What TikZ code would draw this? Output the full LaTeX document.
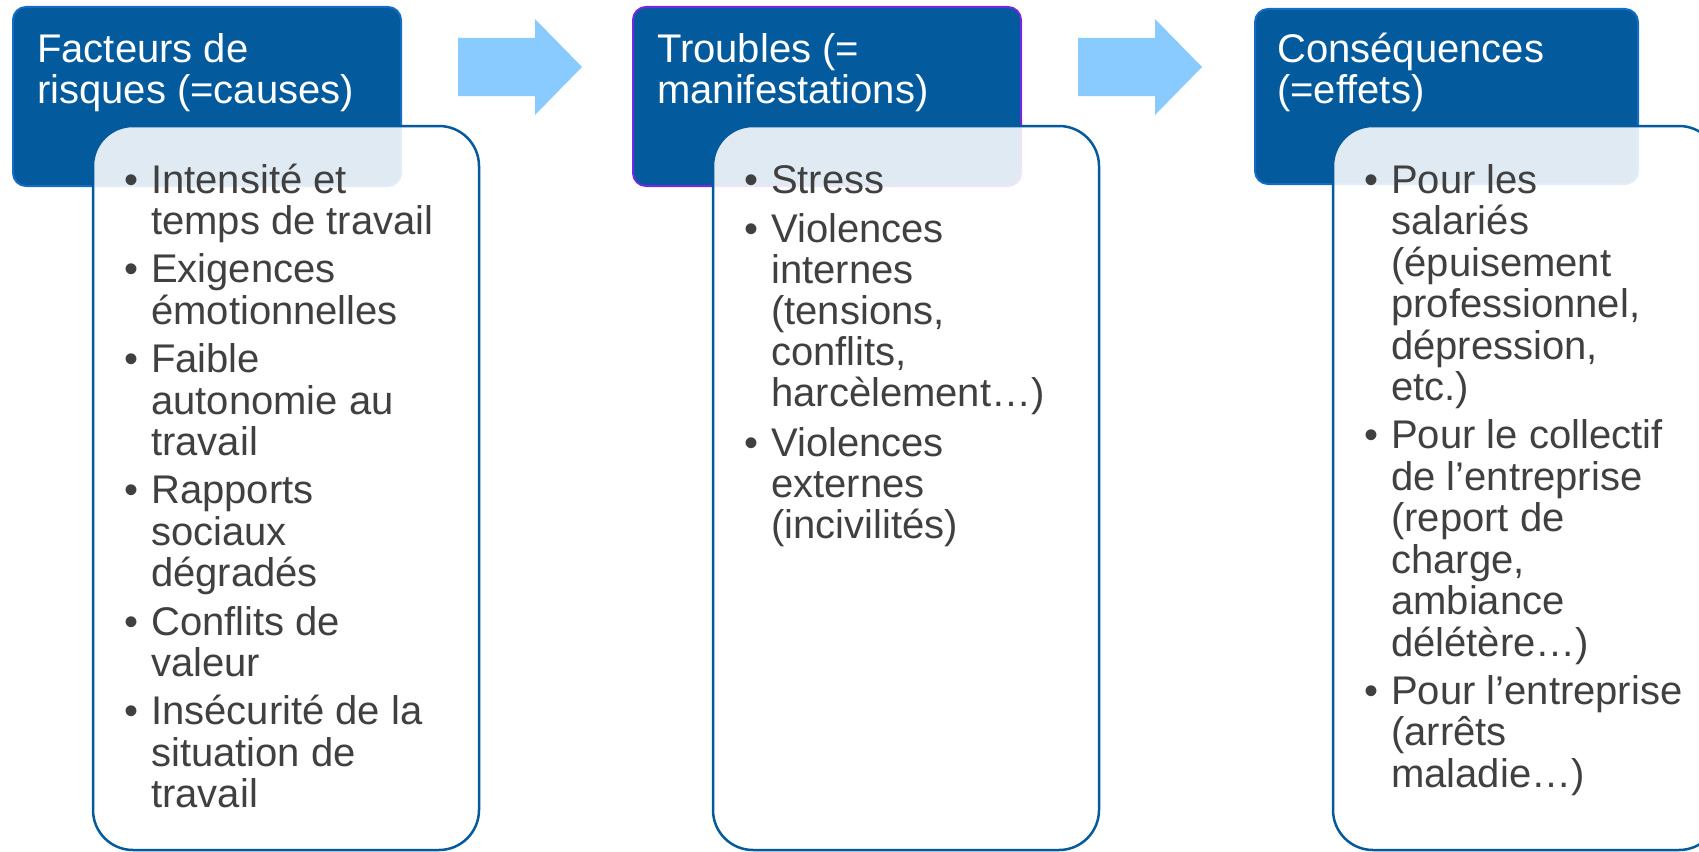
\documentclass[tikz,border=0pt]{standalone}
\usepackage{fontspec}
\setmainfont{Liberation Sans}
\definecolor{hdrblue}{RGB}{3,90,156}
\definecolor{hdredge}{RGB}{20,108,196}
\definecolor{purpedge}{RGB}{118,40,222}
\definecolor{arrowblue}{RGB}{138,203,255}
\definecolor{bodytxt}{RGB}{64,64,64}
\newcommand\bu{\makebox[27pt][l]{\textbullet}}
\newcommand\ind{\hspace*{27pt}}
\newcommand\blk[1]{\vtop{\halign{##\hfil\cr#1\crcr}}}
\newcommand\gap[1]{\noalign{\vskip#1}}
\tikzset{
  hdr/.style={draw=hdredge, line width=2pt, fill=hdrblue, rounded corners=13pt,
    anchor=north west, minimum width=388pt, minimum height=179pt, inner sep=0pt, outer sep=0pt},
  bodybox/.style={draw=hdrblue, line width=2.5pt, fill=white, fill opacity=0.88,
    rounded corners=40pt, anchor=north west, minimum width=386pt, minimum height=724pt,
    inner sep=0pt, outer sep=0pt},
  htext/.style={text=white, font=\fontsize{40}{41}\selectfont,
    anchor=base west, inner sep=0pt},
  btext/.style={text=bodytxt, anchor=base west, inner sep=0pt},
  blockarrow/.style={fill=arrowblue, draw=none}
}
\begin{document}
\begin{tikzpicture}[x=1pt, y=-1pt]
\useasboundingbox (0,0) rectangle (1699,851);
\clip (0,0) rectangle (1699,851);
% headers
\node[hdr] (h1) at (13,7) {};
\node[hdr, draw=purpedge] (h2) at (633,7) {};
\node[hdr, minimum width=383pt, minimum height=175pt] (h3) at (1255,9) {};
% bodies
\node[bodybox] (b1) at (93,126) {};
\node[bodybox] (b2) at (713,126) {};
\node[bodybox] (b3) at (1333,126) {};
% block arrows
\fill[blockarrow] (458,38) -- (535,38) -- (535,19) -- (582,67) -- (535,115) -- (535,96) -- (458,96) -- cycle;
\fill[blockarrow] (1078,38) -- (1155,38) -- (1155,19) -- (1202,67) -- (1155,115) -- (1155,96) -- (1078,96) -- cycle;
% header texts
\node[htext] (h1t) at (37,63) {\blk{Facteurs de\cr risques (=causes)}};
\node[htext] (h2t) at (657,63) {\blk{Troubles (=\cr manifestations)}};
\node[htext] (h3t) at (1277,63) {\blk{Conséquences\cr (=effets)}};
% body texts
\node[btext, font=\fontsize{40}{41.2}\selectfont] (b1t) at (124,193) {\blk{%
\bu Intensité et\cr\ind temps de travail\cr\gap{7.5pt}
\bu Exigences\cr\ind émotionnelles\cr\gap{7.5pt}
\bu Faible\cr\ind autonomie au\cr\ind travail\cr\gap{7.5pt}
\bu Rapports\cr\ind sociaux\cr\ind dégradés\cr\gap{7.5pt}
\bu Conflits de\cr\ind valeur\cr\gap{7.5pt}
\bu Insécurité de la\cr\ind situation de\cr\ind travail}};
\node[btext, font=\fontsize{40}{41}\selectfont] (b2t) at (744,193) {\blk{%
\bu Stress\cr\gap{8.5pt}
\bu Violences\cr\ind internes\cr\ind (tensions,\cr\ind conflits,\cr\ind harcèlement…)\cr\gap{8.5pt}
\bu Violences\cr\ind externes\cr\ind (incivilités)}};
\node[btext, font=\fontsize{40}{41.5}\selectfont] (b3t) at (1364,193) {\blk{%
\bu Pour les\cr\ind salariés\cr\ind (épuisement\cr\ind professionnel,\cr\ind dépression,\cr\ind etc.)\cr\gap{6.5pt}
\bu Pour le collectif\cr\ind de l’entreprise\cr\ind (report de\cr\ind charge,\cr\ind ambiance\cr\ind délétère…)\cr\gap{6.5pt}
\bu Pour l’entreprise\cr\ind (arrêts\cr\ind maladie…)}};
\end{tikzpicture}
\end{document}
